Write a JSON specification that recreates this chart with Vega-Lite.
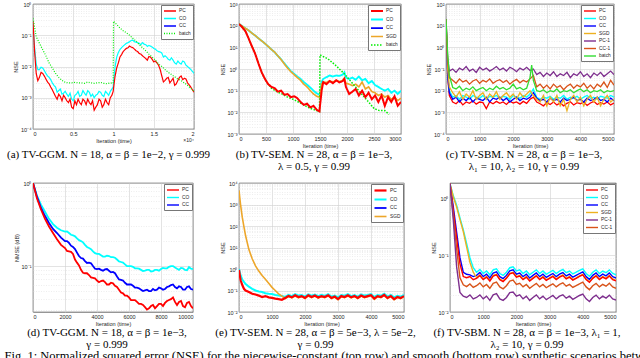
{
"$schema":"https://vega.github.io/schema/vega-lite/v6.json",
"padding":{"left":4,"top":1,"right":2,"bottom":0},
"title":{"text":"Fig. 1: Normalized squared error (NSE) for the piecewise-constant (top row) and smooth (bottom row) synthetic scenarios between our online","orient":"bottom","anchor":"start","fontSize":12.5,"offset":0,"dx":-2},
"spacing":8,
"resolve":{"scale":{"color":"independent","strokeDash":"independent","strokeWidth":"independent"},"legend":{"color":"independent","strokeDash":"independent"}},
"vconcat":[
{"hconcat":[
{"width":161,"height":125,
 "title":{"text":"(a) TV-GGM. N = 18, α = β = 1e−2, γ = 0.999","offset":5,"dx":-5},
 "layer":[
 {"data":{"values":[
{"x":0,"PC":0.28,"CO":0.22,"batch":0.35},
{"x":400,"PC":0.006,"CO":0.012,"batch":0.09},
{"x":800,"PC":0.0045,"CO":0.008,"batch":0.055},
{"x":1200,"PC":0.006,"CO":0.009,"batch":0.035},
{"x":1600,"PC":0.004,"CO":0.006,"batch":0.022},
{"x":2000,"PC":0.0028,"CO":0.0045,"batch":0.013},
{"x":2400,"PC":0.0018,"CO":0.003,"batch":0.009},
{"x":2800,"PC":0.0011,"CO":0.0022,"batch":0.006},
{"x":3200,"PC":0.0013,"CO":0.0017,"batch":0.0045},
{"x":3600,"PC":0.0008,"CO":0.0013,"batch":0.0036},
{"x":4000,"PC":0.001,"CO":0.0016,"batch":0.0031},
{"x":4400,"PC":0.0007,"CO":0.0011,"batch":0.003},
{"x":4800,"PC":0.0005,"CO":0.0009,"batch":0.003},
{"x":5200,"PC":0.0008,"CO":0.0012,"batch":0.0031},
{"x":5600,"PC":0.0009,"CO":0.0016,"batch":0.003},
{"x":6000,"PC":0.0006,"CO":0.0012,"batch":0.003},
{"x":6400,"PC":0.0008,"CO":0.0014,"batch":0.0029},
{"x":6800,"PC":0.0009,"CO":0.0017,"batch":0.0032},
{"x":7200,"PC":0.0006,"CO":0.0011,"batch":0.003},
{"x":7600,"PC":0.0004,"CO":0.001,"batch":0.0029},
{"x":8000,"PC":0.0006,"CO":0.0013,"batch":0.003},
{"x":8400,"PC":0.0008,"CO":0.0015,"batch":0.0031},
{"x":8800,"PC":0.0006,"CO":0.0011,"batch":0.0029},
{"x":9200,"PC":0.0007,"CO":0.0014,"batch":0.0028},
{"x":9600,"PC":0.001,"CO":0.0016,"batch":0.003},
{"x":9960,"PC":0.0016,"CO":0.0022,"batch":0.0029},
{"x":10000,"PC":0.002,"CO":0.003,"batch":0.28},
{"x":10400,"PC":0.009,"CO":0.02,"batch":0.22},
{"x":10800,"PC":0.02,"CO":0.035,"batch":0.17},
{"x":11200,"PC":0.03,"CO":0.045,"batch":0.14},
{"x":11600,"PC":0.038,"CO":0.055,"batch":0.12},
{"x":12000,"PC":0.045,"CO":0.062,"batch":0.1},
{"x":12400,"PC":0.04,"CO":0.07,"batch":0.08},
{"x":12800,"PC":0.032,"CO":0.06,"batch":0.065},
{"x":13200,"PC":0.026,"CO":0.055,"batch":0.05},
{"x":13600,"PC":0.022,"CO":0.058,"batch":0.04},
{"x":14000,"PC":0.018,"CO":0.05,"batch":0.032},
{"x":14400,"PC":0.021,"CO":0.047,"batch":0.025},
{"x":14800,"PC":0.017,"CO":0.042,"batch":0.02},
{"x":15200,"PC":0.015,"CO":0.036,"batch":0.016},
{"x":15600,"PC":0.011,"CO":0.03,"batch":0.012},
{"x":16000,"PC":0.005,"CO":0.027,"batch":0.01},
{"x":16400,"PC":0.0036,"CO":0.022,"batch":0.008},
{"x":16800,"PC":0.0045,"CO":0.017,"batch":0.0065},
{"x":17200,"PC":0.0035,"CO":0.019,"batch":0.0055},
{"x":17600,"PC":0.0025,"CO":0.013,"batch":0.0047},
{"x":18000,"PC":0.0036,"CO":0.015,"batch":0.004},
{"x":18400,"PC":0.005,"CO":0.012,"batch":0.0035},
{"x":18800,"PC":0.0042,"CO":0.014,"batch":0.003},
{"x":19200,"PC":0.003,"CO":0.01,"batch":0.0025},
{"x":19600,"PC":0.0022,"CO":0.008,"batch":0.002},
{"x":20000,"PC":0.0015,"CO":0.006,"batch":0.0016},
{"x":200,"PC":0.03,"CO":0.04},
{"x":600,"PC":0.0035,"CO":0.008},
{"x":1000,"PC":0.0065,"CO":0.0095},
{"x":1400,"PC":0.005,"CO":0.0075},
{"x":1800,"PC":0.0032,"CO":0.005},
{"x":2200,"PC":0.0022,"CO":0.0038},
{"x":2600,"PC":0.0014,"CO":0.0025},
{"x":3000,"PC":0.0009,"CO":0.0015},
{"x":3400,"PC":0.0011,"CO":0.0019},
{"x":3800,"PC":0.0012,"CO":0.0014},
{"x":4200,"PC":0.0008,"CO":0.0013},
{"x":4600,"PC":0.0009,"CO":0.0014},
{"x":5000,"PC":0.00045,"CO":0.0008},
{"x":5400,"PC":0.0006,"CO":0.0013},
{"x":5800,"PC":0.0007,"CO":0.0011},
{"x":6200,"PC":0.0009,"CO":0.0017},
{"x":6600,"PC":0.0006,"CO":0.0012},
{"x":7000,"PC":0.0007,"CO":0.0015},
{"x":7400,"PC":0.0008,"CO":0.0013},
{"x":7800,"PC":0.0005,"CO":0.0012},
{"x":8200,"PC":0.0009,"CO":0.0016},
{"x":8600,"PC":0.0005,"CO":0.0012},
{"x":9000,"PC":0.0009,"CO":0.0016},
{"x":9400,"PC":0.0006,"CO":0.0012},
{"x":9800,"PC":0.0012,"CO":0.0019},
{"x":10200,"PC":0.005,"CO":0.01},
{"x":10600,"PC":0.013,"CO":0.028},
{"x":11000,"PC":0.024,"CO":0.04},
{"x":11400,"PC":0.034,"CO":0.05},
{"x":11800,"PC":0.04,"CO":0.058},
{"x":12200,"PC":0.042,"CO":0.068},
{"x":12600,"PC":0.036,"CO":0.062},
{"x":13000,"PC":0.03,"CO":0.058},
{"x":13400,"PC":0.025,"CO":0.05},
{"x":13800,"PC":0.02,"CO":0.052},
{"x":14200,"PC":0.016,"CO":0.044},
{"x":14600,"PC":0.02,"CO":0.045},
{"x":15000,"PC":0.014,"CO":0.038},
{"x":15400,"PC":0.013,"CO":0.032},
{"x":15800,"PC":0.008,"CO":0.029},
{"x":16200,"PC":0.0032,"CO":0.02},
{"x":16600,"PC":0.0042,"CO":0.02},
{"x":17000,"PC":0.003,"CO":0.016},
{"x":17400,"PC":0.0042,"CO":0.016},
{"x":17800,"PC":0.0028,"CO":0.012},
{"x":18200,"PC":0.0045,"CO":0.013},
{"x":18600,"PC":0.0038,"CO":0.015},
{"x":19000,"PC":0.004,"CO":0.011},
{"x":19400,"PC":0.0026,"CO":0.009},
{"x":19800,"PC":0.0018,"CO":0.007}
 ]},
 "transform":[{"fold":["CO","PC","batch"],"as":["s","v"]},{"filter":"isValid(datum.v) && datum.v > 0"}],
 "mark":{"type":"line","strokeWidth":1.2,"clip":true},
 "encoding":{
  "x":{"field":"x","type":"quantitative","scale":{"domain":[0,20000],"nice":false},"axis":{"title":"Iteration (time)","values":[0,5000,10000,15000,20000],"labelExpr":"datum.value/10000","gridColor":"#d0d0d0"}},
  "y":{"field":"v","type":"quantitative","scale":{"type":"log","domain":[0.0001,1],"nice":false},"axis":{"title":"NSE","values":[0.0001,0.0002,0.0003,0.0004,0.0005,0.0006,0.0007,0.0008,0.0009,0.001,0.002,0.003,0.004,0.005,0.006,0.007,0.008,0.009,0.01,0.02,0.03,0.04,0.05,0.06,0.07,0.08,0.09,0.1,0.2,0.3,0.4,0.5,0.6,0.7,0.8,0.9,1],"labelExpr":"abs(log(datum.value)/LN10-round(log(datum.value)/LN10))<0.01 ? '10'+(round(log(datum.value)/LN10)<0?'⁻':'')+['⁰','¹','²','³','⁴','⁵'][abs(round(log(datum.value)/LN10))] : ''","gridDash":{"condition":{"test":"abs(log(datum.value)/LN10-round(log(datum.value)/LN10))<0.01","value":[]},"value":[1,1.5]},"gridColor":{"condition":{"test":"abs(log(datum.value)/LN10-round(log(datum.value)/LN10))<0.01","value":"#d0d0d0"},"value":"#e2e2e2"}}},
  "color":{"field":"s","type":"nominal","scale":{"domain":["PC","CO","CC","batch"],"range":["#ff0000","#00ffff","#0000ff","#00ee00"]},"legend":{"title":null}},
  "strokeDash":{"field":"s","type":"nominal","scale":{"domain":["PC","CO","CC","batch"],"range":[[1,0],[1,0],[1,0],[1,1.5]]},"legend":{"title":null}}
 }},
 {"data":{"values":[{}]},
  "mark":{"type":"text","text":"×10⁴","align":"right","baseline":"top","dy":9,"fontSize":5,"font":"Liberation Sans","color":"#262626"},
  "encoding":{"x":{"datum":20000,"type":"quantitative"},"y":{"datum":0.0001,"type":"quantitative"}}}
 ]},
{"width":162,"height":130,
 "title":{"text":["(b) TV-SEM. N = 28, α = β = 1e−3,","λ = 0.5, γ = 0.99"],"offset":0,"dx":-6},
 "data":{"values":[
{"x":0,"PC":120,"CO":120,"SGD":120,"batch":120},
{"x":60,"PC":85,"CO":95,"SGD":95,"batch":85},
{"x":120,"PC":55,"CO":75,"SGD":75,"batch":55},
{"x":180,"PC":25,"CO":60,"SGD":60,"batch":25},
{"x":240,"PC":11,"CO":45,"SGD":45,"batch":11},
{"x":300,"PC":5,"CO":35,"SGD":35,"batch":5},
{"x":360,"PC":1.8,"CO":26,"SGD":26,"batch":1.8},
{"x":420,"PC":0.7,"CO":20,"SGD":20,"batch":0.7},
{"x":480,"PC":0.35,"CO":15,"SGD":15,"batch":0.35},
{"x":540,"PC":0.2,"CO":11,"SGD":11,"batch":0.2},
{"x":600,"PC":0.15,"CO":8,"SGD":8,"batch":0.13},
{"x":660,"PC":0.13,"CO":6,"SGD":6},
{"x":700,"batch":0.09},
{"x":720,"PC":0.09,"CO":4,"SGD":4},
{"x":780,"PC":0.1,"CO":2.8,"SGD":2.7},
{"x":800,"batch":0.07},
{"x":840,"PC":0.065,"CO":1.8,"SGD":1.7},
{"x":900,"PC":0.07,"CO":1.2,"SGD":1.1,"batch":0.05},
{"x":960,"PC":0.05,"CO":0.8,"SGD":0.75},
{"x":1000,"batch":0.04},
{"x":1020,"PC":0.055,"CO":0.6,"SGD":0.55},
{"x":1080,"PC":0.045,"CO":0.45,"SGD":0.4},
{"x":1100,"batch":0.03},
{"x":1140,"PC":0.03,"CO":0.35,"SGD":0.3},
{"x":1200,"PC":0.022,"CO":0.25,"SGD":0.2,"batch":0.022},
{"x":1260,"PC":0.025,"CO":0.19,"SGD":0.15},
{"x":1300,"batch":0.016},
{"x":1320,"PC":0.017,"CO":0.14,"SGD":0.1},
{"x":1380,"PC":0.02,"CO":0.1,"SGD":0.07},
{"x":1400,"batch":0.013},
{"x":1440,"PC":0.013,"CO":0.075,"SGD":0.055},
{"x":1490,"PC":0.011,"CO":0.065,"SGD":0.05,"batch":0.011},
{"x":1500,"PC":0.02,"CO":0.08,"SGD":0.06,"batch":4.5},
{"x":1530,"PC":0.1,"CO":0.25,"SGD":0.2},
{"x":1560,"PC":0.25,"CO":0.35,"SGD":0.25},
{"x":1620,"PC":0.2,"CO":0.42,"SGD":0.24},
{"x":1650,"batch":2.9},
{"x":1680,"PC":0.28,"CO":0.5,"SGD":0.28},
{"x":1740,"PC":0.22,"CO":0.45,"SGD":0.25},
{"x":1800,"PC":0.3,"CO":0.5,"SGD":0.3,"batch":1.4},
{"x":1860,"PC":0.24,"CO":0.48,"SGD":0.26},
{"x":1920,"PC":0.28,"CO":0.55,"SGD":0.3},
{"x":1950,"PC":0.35,"CO":0.7,"SGD":0.38,"batch":0.6},
{"x":1980,"PC":0.15,"CO":0.4,"SGD":0.22},
{"x":2040,"PC":0.07,"CO":0.35,"SGD":0.2},
{"x":2100,"PC":0.09,"CO":0.4,"SGD":0.17,"batch":0.22},
{"x":2160,"PC":0.12,"CO":0.32,"SGD":0.2},
{"x":2220,"PC":0.06,"CO":0.45,"SGD":0.15},
{"x":2250,"batch":0.08},
{"x":2280,"PC":0.1,"CO":0.3,"SGD":0.25},
{"x":2340,"PC":0.05,"CO":0.35,"SGD":0.12},
{"x":2400,"PC":0.08,"CO":0.22,"SGD":0.15,"batch":0.03},
{"x":2460,"PC":0.04,"CO":0.28,"SGD":0.09},
{"x":2500,"batch":0.015},
{"x":2520,"PC":0.06,"CO":0.18,"SGD":0.08},
{"x":2580,"PC":0.03,"CO":0.15,"SGD":0.06},
{"x":2600,"batch":0.012},
{"x":2640,"PC":0.06,"CO":0.12,"SGD":0.07},
{"x":2700,"PC":0.02,"CO":0.1,"SGD":0.05,"batch":0.012},
{"x":2760,"PC":0.05,"CO":0.12,"SGD":0.06},
{"x":2780,"batch":0.008},
{"x":2820,"PC":0.03,"CO":0.08,"SGD":0.04},
{"x":2880,"PC":0.055,"CO":0.1,"SGD":0.05},
{"x":2940,"PC":0.02,"CO":0.07,"SGD":0.035},
{"x":3000,"PC":0.03,"CO":0.1,"SGD":0.045}
 ]},
 "transform":[{"fold":["CO","SGD","batch","PC"],"as":["s","v"]},{"filter":"isValid(datum.v) && datum.v > 0"}],
 "mark":{"type":"line","clip":true},
 "encoding":{
  "x":{"field":"x","type":"quantitative","scale":{"domain":[0,3000],"nice":false},"axis":{"title":"Iteration (time)","values":[0,500,1000,1500,2000,2500,3000],"format":"d","gridColor":"#d0d0d0"}},
  "y":{"field":"v","type":"quantitative","scale":{"type":"log","domain":[0.001,1000],"nice":false},"axis":{"title":"NSE","values":[0.001,0.002,0.003,0.004,0.005,0.006,0.007,0.008,0.009,0.01,0.02,0.03,0.04,0.05,0.06,0.07,0.08,0.09,0.1,0.2,0.3,0.4,0.5,0.6,0.7,0.8,0.9,1,2,3,4,5,6,7,8,9,10,20,30,40,50,60,70,80,90,100,200,300,400,500,600,700,800,900,1000],"labelExpr":"abs(log(datum.value)/LN10-round(log(datum.value)/LN10))<0.01 ? '10'+(round(log(datum.value)/LN10)<0?'⁻':'')+['⁰','¹','²','³','⁴','⁵'][abs(round(log(datum.value)/LN10))] : ''","gridDash":{"condition":{"test":"abs(log(datum.value)/LN10-round(log(datum.value)/LN10))<0.01","value":[]},"value":[1,1.5]},"gridColor":{"condition":{"test":"abs(log(datum.value)/LN10-round(log(datum.value)/LN10))<0.01","value":"#d0d0d0"},"value":"#e2e2e2"}}},
  "color":{"field":"s","type":"nominal","scale":{"domain":["PC","CO","CC","SGD","batch"],"range":["#ff0000","#00ffff","#0000ff","#eda62a","#00ee00"]},"legend":{"title":null}},
  "strokeDash":{"field":"s","type":"nominal","scale":{"domain":["PC","CO","CC","SGD","batch"],"range":[[1,0],[1,0],[1,0],[1,0],[1.5,1.5]]},"legend":{"title":null}},
  "strokeWidth":{"field":"s","type":"nominal","scale":{"domain":["PC","CO","CC","SGD","batch"],"range":[2,1.5,1.5,1.5,1.3]},"legend":null}
 }},
{"width":168,"height":130,
 "title":{"text":["(c) TV-SBM. N = 28, α = β = 1e−3,","λ₁ = 10, λ₂ = 10, γ = 0.99"],"offset":0,"dx":-6},
 "data":{"values":[
{"x":0,"PC":20,"CO":20,"CC":20,"SGD":20,"PC-1":20,"CC-1":20,"batch":20},
{"x":50,"PC":0.04,"CO":0.06,"CC":0.05,"SGD":0.1,"PC-1":0.3,"CC-1":0.2,"batch":0.5},
{"x":100,"PC":0.006,"CO":0.01,"CC":0.008,"SGD":0.015,"PC-1":0.08,"CC-1":0.04,"batch":0.05},
{"x":200,"PC":0.003,"CO":0.005,"CC":0.004,"SGD":0.008,"PC-1":0.1,"CC-1":0.03,"batch":0.014},
{"x":300,"PC":0.0025,"CO":0.006,"CC":0.005,"SGD":0.005,"PC-1":0.07,"CC-1":0.022,"batch":0.012},
{"x":400,"PC":0.0035,"CO":0.004,"CC":0.003,"SGD":0.009,"PC-1":0.11,"CC-1":0.035,"batch":0.016},
{"x":500,"PC":0.0022,"CO":0.006,"CC":0.0045,"SGD":0.004,"PC-1":0.09,"CC-1":0.025,"batch":0.01},
{"x":600,"PC":0.003,"CO":0.005,"CC":0.0035,"SGD":0.007,"PC-1":0.13,"CC-1":0.03,"batch":0.013},
{"x":700,"PC":0.0026,"CO":0.004,"CC":0.005,"SGD":0.005,"PC-1":0.08,"CC-1":0.02,"batch":0.011},
{"x":800,"PC":0.0034,"CO":0.006,"CC":0.003,"SGD":0.01,"PC-1":0.1,"CC-1":0.028,"batch":0.015},
{"x":900,"PC":0.0024,"CO":0.005,"CC":0.0045,"SGD":0.004,"PC-1":0.07,"CC-1":0.033,"batch":0.01},
{"x":1000,"PC":0.003,"CO":0.0045,"CC":0.004,"SGD":0.006,"PC-1":0.12,"CC-1":0.022,"batch":0.012},
{"x":1100,"PC":0.0028,"CO":0.006,"CC":0.0035,"SGD":0.008,"PC-1":0.09,"CC-1":0.03,"batch":0.014},
{"x":1200,"PC":0.0015,"CO":0.004,"CC":0.005,"SGD":0.004,"PC-1":0.11,"CC-1":0.025,"batch":0.01},
{"x":1300,"PC":0.003,"CO":0.0055,"CC":0.003,"SGD":0.007,"PC-1":0.08,"CC-1":0.035,"batch":0.013},
{"x":1400,"PC":0.0025,"CO":0.005,"CC":0.0045,"SGD":0.005,"PC-1":0.1,"CC-1":0.022,"batch":0.011},
{"x":1500,"PC":0.0032,"CO":0.006,"CC":0.004,"SGD":0.009,"PC-1":0.13,"CC-1":0.028,"batch":0.016},
{"x":1600,"PC":0.0026,"CO":0.0045,"CC":0.005,"SGD":0.004,"PC-1":0.09,"CC-1":0.032,"batch":0.012},
{"x":1700,"PC":0.003,"CO":0.0055,"CC":0.0035,"SGD":0.006,"PC-1":0.11,"CC-1":0.024,"batch":0.014},
{"x":1800,"PC":0.0023,"CO":0.005,"CC":0.0045,"SGD":0.008,"PC-1":0.08,"CC-1":0.03,"batch":0.011},
{"x":1900,"PC":0.0033,"CO":0.004,"CC":0.003,"SGD":0.005,"PC-1":0.12,"CC-1":0.02,"batch":0.013},
{"x":2000,"PC":0.0027,"CO":0.006,"CC":0.004,"SGD":0.007,"PC-1":0.1,"CC-1":0.027,"batch":0.02},
{"x":2100,"PC":0.003,"CO":0.005,"CC":0.005,"SGD":0.004,"PC-1":0.075,"CC-1":0.033,"batch":0.012},
{"x":2200,"PC":0.0024,"CO":0.0045,"CC":0.0035,"SGD":0.008,"PC-1":0.11,"CC-1":0.023,"batch":0.014},
{"x":2300,"PC":0.0032,"CO":0.006,"CC":0.0045,"SGD":0.005,"PC-1":0.09,"CC-1":0.03,"batch":0.011},
{"x":2400,"PC":0.0026,"CO":0.005,"CC":0.004,"SGD":0.007,"PC-1":0.12,"CC-1":0.025,"batch":0.013},
{"x":2500,"PC":0.004,"CO":0.007,"CC":0.005,"SGD":0.01,"PC-1":0.085,"CC-1":0.035,"batch":0.04},
{"x":2550,"batch":0.15},
{"x":2600,"PC":0.005,"CO":0.012,"CC":0.008,"SGD":0.006,"PC-1":0.1,"CC-1":0.05,"batch":0.03},
{"x":2700,"PC":0.003,"CO":0.005,"CC":0.0045,"SGD":0.004,"PC-1":0.055,"CC-1":0.015,"batch":0.01},
{"x":2800,"PC":0.0025,"CO":0.004,"CC":0.0035,"SGD":0.003,"PC-1":0.07,"CC-1":0.02,"batch":0.009},
{"x":2900,"PC":0.002,"CO":0.005,"CC":0.004,"SGD":0.006,"PC-1":0.045,"CC-1":0.013,"batch":0.011},
{"x":3000,"PC":0.0028,"CO":0.0045,"CC":0.003,"SGD":0.002,"PC-1":0.065,"CC-1":0.018,"batch":0.008},
{"x":3100,"PC":0.0023,"CO":0.0055,"CC":0.0045,"SGD":0.005,"PC-1":0.05,"CC-1":0.012,"batch":0.01},
{"x":3200,"PC":0.003,"CO":0.004,"CC":0.0035,"SGD":0.003,"PC-1":0.075,"CC-1":0.02,"batch":0.009},
{"x":3300,"PC":0.0022,"CO":0.005,"CC":0.004,"SGD":0.006,"PC-1":0.045,"CC-1":0.014,"batch":0.012},
{"x":3400,"PC":0.0027,"CO":0.0045,"CC":0.003,"SGD":0.002,"PC-1":0.06,"CC-1":0.017,"batch":0.008},
{"x":3500,"PC":0.002,"CO":0.006,"CC":0.0045,"SGD":0.004,"PC-1":0.05,"CC-1":0.011,"batch":0.01},
{"x":3600,"PC":0.0026,"CO":0.004,"CC":0.0035,"SGD":0.0012,"PC-1":0.07,"CC-1":0.016,"batch":0.009},
{"x":3700,"PC":0.0031,"CO":0.005,"CC":0.004,"SGD":0.004,"PC-1":0.04,"CC-1":0.02,"batch":0.011},
{"x":3800,"PC":0.0022,"CO":0.0045,"CC":0.005,"SGD":0.006,"PC-1":0.06,"CC-1":0.013,"batch":0.008},
{"x":3900,"PC":0.0028,"CO":0.0055,"CC":0.0035,"SGD":0.003,"PC-1":0.05,"CC-1":0.018,"batch":0.01},
{"x":4000,"PC":0.0025,"CO":0.004,"CC":0.004,"SGD":0.005,"PC-1":0.075,"CC-1":0.015,"batch":0.012},
{"x":4100,"PC":0.003,"CO":0.005,"CC":0.003,"SGD":0.002,"PC-1":0.045,"CC-1":0.022,"batch":0.009},
{"x":4200,"PC":0.0021,"CO":0.006,"CC":0.0045,"SGD":0.004,"PC-1":0.06,"CC-1":0.013,"batch":0.011},
{"x":4300,"PC":0.0027,"CO":0.0045,"CC":0.0035,"SGD":0.006,"PC-1":0.04,"CC-1":0.018,"batch":0.008},
{"x":4400,"PC":0.0032,"CO":0.005,"CC":0.004,"SGD":0.003,"PC-1":0.065,"CC-1":0.012,"batch":0.01},
{"x":4500,"PC":0.0023,"CO":0.004,"CC":0.005,"SGD":0.005,"PC-1":0.05,"CC-1":0.02,"batch":0.009},
{"x":4600,"PC":0.0028,"CO":0.0055,"CC":0.0035,"SGD":0.002,"PC-1":0.07,"CC-1":0.015,"batch":0.011},
{"x":4700,"PC":0.0024,"CO":0.005,"CC":0.004,"SGD":0.004,"PC-1":0.045,"CC-1":0.025,"batch":0.008},
{"x":4800,"PC":0.003,"CO":0.0045,"CC":0.003,"SGD":0.006,"PC-1":0.06,"CC-1":0.014,"batch":0.01},
{"x":4900,"PC":0.0022,"CO":0.006,"CC":0.0045,"SGD":0.003,"PC-1":0.08,"CC-1":0.03,"batch":0.009},
{"x":5000,"PC":0.0027,"CO":0.005,"CC":0.0035,"SGD":0.004,"PC-1":0.055,"CC-1":0.018,"batch":0.01}
 ]},
 "transform":[{"fold":["PC","CO","CC","SGD","PC-1","CC-1","batch"],"as":["s","v"]},{"filter":"isValid(datum.v) && datum.v > 0"}],
 "mark":{"type":"line","strokeWidth":1.3,"clip":true},
 "encoding":{
  "x":{"field":"x","type":"quantitative","scale":{"domain":[0,5000],"nice":false},"axis":{"title":"Iteration (time)","values":[0,1000,2000,3000,4000,5000],"format":"d","gridColor":"#d0d0d0"}},
  "y":{"field":"v","type":"quantitative","scale":{"type":"log","domain":[0.0001,100],"nice":false},"axis":{"title":"NSE","values":[0.0001,0.0002,0.0003,0.0004,0.0005,0.0006,0.0007,0.0008,0.0009,0.001,0.002,0.003,0.004,0.005,0.006,0.007,0.008,0.009,0.01,0.02,0.03,0.04,0.05,0.06,0.07,0.08,0.09,0.1,0.2,0.3,0.4,0.5,0.6,0.7,0.8,0.9,1,2,3,4,5,6,7,8,9,10,20,30,40,50,60,70,80,90,100],"labelExpr":"abs(log(datum.value)/LN10-round(log(datum.value)/LN10))<0.01 ? '10'+(round(log(datum.value)/LN10)<0?'⁻':'')+['⁰','¹','²','³','⁴','⁵'][abs(round(log(datum.value)/LN10))] : ''","gridDash":{"condition":{"test":"abs(log(datum.value)/LN10-round(log(datum.value)/LN10))<0.01","value":[]},"value":[1,1.5]},"gridColor":{"condition":{"test":"abs(log(datum.value)/LN10-round(log(datum.value)/LN10))<0.01","value":"#d0d0d0"},"value":"#e2e2e2"}}},
  "color":{"field":"s","type":"nominal","scale":{"domain":["PC","CO","CC","SGD","PC-1","CC-1","batch"],"range":["#ff0000","#00ffff","#0000ff","#edb120","#7e2f8e","#d95319","#33dd33"]},"legend":{"title":null}}
 }}
],"spacing":45,"bounds":"flush","resolve":{"scale":{"color":"independent","strokeDash":"independent","strokeWidth":"independent"},"legend":{"color":"independent","strokeDash":"independent"}}},
{"hconcat":[
{"width":160,"height":129,
 "title":{"text":["(d) TV-GGM. N = 18, α = β = 1e−3,","γ = 0.999"],"offset":0,"dx":-6},
 "data":{"values":[
{"x":0,"PC":1.0,"CO":1.0,"CC":1.0},
{"x":250,"PC":0.65,"CO":0.7,"CC":0.68},
{"x":500,"PC":0.48,"CO":0.55,"CC":0.5},
{"x":750,"PC":0.37,"CO":0.45,"CC":0.4},
{"x":1000,"PC":0.3,"CO":0.37,"CC":0.33},
{"x":1250,"PC":0.25,"CO":0.32,"CC":0.28},
{"x":1500,"PC":0.21,"CO":0.29,"CC":0.25},
{"x":1750,"PC":0.18,"CO":0.27,"CC":0.22},
{"x":2000,"PC":0.165,"CO":0.26,"CC":0.2},
{"x":2250,"PC":0.15,"CO":0.25,"CC":0.19},
{"x":2500,"PC":0.14,"CO":0.235,"CC":0.17},
{"x":2750,"PC":0.11,"CO":0.215,"CC":0.145},
{"x":3000,"PC":0.09,"CO":0.2,"CC":0.125},
{"x":3250,"PC":0.082,"CO":0.18,"CC":0.115},
{"x":3500,"PC":0.078,"CO":0.165,"CC":0.11},
{"x":3750,"PC":0.072,"CO":0.15,"CC":0.1},
{"x":4000,"PC":0.067,"CO":0.14,"CC":0.092},
{"x":4250,"PC":0.066,"CO":0.135,"CC":0.09},
{"x":4500,"PC":0.064,"CO":0.13,"CC":0.091},
{"x":4750,"PC":0.06,"CO":0.132,"CC":0.088},
{"x":5000,"PC":0.062,"CO":0.128,"CC":0.085},
{"x":5250,"PC":0.056,"CO":0.12,"CC":0.075},
{"x":5500,"PC":0.048,"CO":0.112,"CC":0.068},
{"x":5750,"PC":0.044,"CO":0.105,"CC":0.063},
{"x":6000,"PC":0.042,"CO":0.1,"CC":0.06},
{"x":6250,"PC":0.039,"CO":0.098,"CC":0.058},
{"x":6500,"PC":0.037,"CO":0.094,"CC":0.055},
{"x":6750,"PC":0.035,"CO":0.09,"CC":0.052},
{"x":7000,"PC":0.032,"CO":0.088,"CC":0.051},
{"x":7250,"PC":0.031,"CO":0.09,"CC":0.05},
{"x":7500,"PC":0.034,"CO":0.087,"CC":0.053},
{"x":7750,"PC":0.033,"CO":0.09,"CC":0.052},
{"x":8000,"PC":0.035,"CO":0.092,"CC":0.054},
{"x":8250,"PC":0.036,"CO":0.094,"CC":0.053},
{"x":8500,"PC":0.039,"CO":0.098,"CC":0.057},
{"x":8750,"PC":0.042,"CO":0.1,"CC":0.06},
{"x":9000,"PC":0.034,"CO":0.093,"CC":0.054},
{"x":9250,"PC":0.038,"CO":0.095,"CC":0.056},
{"x":9500,"PC":0.032,"CO":0.09,"CC":0.052},
{"x":9750,"PC":0.037,"CO":0.097,"CC":0.057},
{"x":10000,"PC":0.031,"CO":0.092,"CC":0.052},
{"x":2125,"PC":0.152,"CO":0.262,"CC":0.2},
{"x":2375,"PC":0.148,"CO":0.238,"CC":0.176},
{"x":2625,"PC":0.12,"CO":0.228,"CC":0.16},
{"x":2875,"PC":0.102,"CO":0.205,"CC":0.132},
{"x":3125,"PC":0.083,"CO":0.193,"CC":0.123},
{"x":3375,"PC":0.082,"CO":0.17,"CC":0.109},
{"x":3625,"PC":0.073,"CO":0.16,"CC":0.108},
{"x":3875,"PC":0.071,"CO":0.143,"CC":0.093},
{"x":4125,"PC":0.064,"CO":0.14,"CC":0.093},
{"x":4375,"PC":0.067,"CO":0.13,"CC":0.088},
{"x":4625,"PC":0.06,"CO":0.133,"CC":0.092},
{"x":4875,"PC":0.063,"CO":0.128,"CC":0.084},
{"x":5125,"PC":0.058,"CO":0.126,"CC":0.082},
{"x":5375,"PC":0.052,"CO":0.114,"CC":0.069},
{"x":5625,"PC":0.047,"CO":0.11,"CC":0.067},
{"x":5875,"PC":0.044,"CO":0.1,"CC":0.06},
{"x":6125,"PC":0.039,"CO":0.1,"CC":0.06},
{"x":6375,"PC":0.039,"CO":0.094,"CC":0.055},
{"x":6625,"PC":0.035,"CO":0.093,"CC":0.054},
{"x":6875,"PC":0.034,"CO":0.087,"CC":0.05},
{"x":7125,"PC":0.03,"CO":0.09,"CC":0.052},
{"x":7375,"PC":0.033,"CO":0.086,"CC":0.05},
{"x":7625,"PC":0.031,"CO":0.09,"CC":0.051},
{"x":7875,"PC":0.035,"CO":0.088,"CC":0.055},
{"x":8125,"PC":0.033,"CO":0.095,"CC":0.052},
{"x":8375,"PC":0.038,"CO":0.094,"CC":0.056},
{"x":8625,"PC":0.04,"CO":0.1,"CC":0.059},
{"x":8875,"PC":0.037,"CO":0.096,"CC":0.056},
{"x":9125,"PC":0.037,"CO":0.09,"CC":0.057},
{"x":9375,"PC":0.033,"CO":0.094,"CC":0.052},
{"x":9625,"PC":0.036,"CO":0.089,"CC":0.056},
{"x":9875,"PC":0.033,"CO":0.093,"CC":0.053}
 ]},
 "transform":[{"fold":["CO","CC","PC"],"as":["s","v"]},{"filter":"isValid(datum.v) && datum.v > 0"}],
 "mark":{"type":"line","strokeWidth":1.8,"clip":true},
 "encoding":{
  "x":{"field":"x","type":"quantitative","scale":{"domain":[0,10000],"nice":false},"axis":{"title":"Iteration (time)","values":[0,2000,4000,6000,8000,10000],"format":"d","gridColor":"#d0d0d0"}},
  "y":{"field":"v","type":"quantitative","scale":{"type":"log","domain":[0.028,1],"nice":false},"axis":{"title":"NMSE (dB)","values":[0.03,0.04,0.05,0.06,0.07,0.08,0.09,0.1,0.2,0.3,0.4,0.5,0.6,0.7,0.8,0.9,1],"labelExpr":"abs(log(datum.value)/LN10-round(log(datum.value)/LN10))<0.01 ? '10'+(round(log(datum.value)/LN10)<0?'⁻':'')+['⁰','¹','²','³','⁴','⁵'][abs(round(log(datum.value)/LN10))] : ''","gridDash":{"condition":{"test":"abs(log(datum.value)/LN10-round(log(datum.value)/LN10))<0.01","value":[]},"value":[1,1.5]},"gridColor":{"condition":{"test":"abs(log(datum.value)/LN10-round(log(datum.value)/LN10))<0.01","value":"#d0d0d0"},"value":"#e2e2e2"}}},
  "color":{"field":"s","type":"nominal","scale":{"domain":["PC","CO","CC"],"range":["#ff0000","#00ffff","#0000ff"]},"legend":{"title":null}}
 }},
{"width":165,"height":129,
 "title":{"text":["(e) TV-SEM. N = 28, α = β = 5e−3, λ = 5e−2,","γ = 0.99"],"offset":0,"dx":-6},
 "data":{"values":[
{"x":0,"PC":0.9,"CO":1.0,"SGD":4500},
{"x":25,"PC":0.5,"CO":0.7,"SGD":2000},
{"x":50,"PC":0.3,"CO":0.5,"SGD":900},
{"x":100,"PC":0.18,"CO":0.32,"SGD":250},
{"x":150,"PC":0.12,"CO":0.25,"SGD":90},
{"x":200,"PC":0.1,"CO":0.2,"SGD":35},
{"x":300,"PC":0.085,"CO":0.15,"SGD":8},
{"x":400,"PC":0.07,"CO":0.12,"SGD":3},
{"x":500,"PC":0.065,"CO":0.1,"SGD":1.4},
{"x":600,"PC":0.058,"CO":0.09,"SGD":0.8},
{"x":700,"PC":0.05,"CO":0.085,"SGD":0.5},
{"x":800,"PC":0.055,"CO":0.075,"SGD":0.33},
{"x":900,"PC":0.048,"CO":0.07,"SGD":0.22},
{"x":1000,"PC":0.045,"CO":0.068,"SGD":0.14},
{"x":1100,"PC":0.042,"CO":0.062,"SGD":0.1},
{"x":1200,"PC":0.04,"CO":0.058,"SGD":0.07},
{"x":1300,"PC":0.037,"CO":0.055,"SGD":0.055},
{"x":1400,"PC":0.045,"CO":0.05,"SGD":0.042},
{"x":1500,"PC":0.055,"CO":0.062,"SGD":0.052},
{"x":1600,"PC":0.048,"CO":0.055,"SGD":0.045},
{"x":1700,"PC":0.06,"CO":0.068,"SGD":0.057},
{"x":1800,"PC":0.05,"CO":0.058,"SGD":0.046},
{"x":1900,"PC":0.055,"CO":0.062,"SGD":0.052},
{"x":2000,"PC":0.045,"CO":0.052,"SGD":0.042},
{"x":2100,"PC":0.06,"CO":0.066,"SGD":0.056},
{"x":2200,"PC":0.05,"CO":0.057,"SGD":0.047},
{"x":2300,"PC":0.058,"CO":0.064,"SGD":0.055},
{"x":2400,"PC":0.047,"CO":0.055,"SGD":0.044},
{"x":2500,"PC":0.055,"CO":0.063,"SGD":0.052},
{"x":2600,"PC":0.05,"CO":0.056,"SGD":0.047},
{"x":2700,"PC":0.06,"CO":0.068,"SGD":0.057},
{"x":2800,"PC":0.045,"CO":0.052,"SGD":0.042},
{"x":2900,"PC":0.052,"CO":0.058,"SGD":0.049},
{"x":3000,"PC":0.04,"CO":0.048,"SGD":0.037},
{"x":3100,"PC":0.055,"CO":0.062,"SGD":0.052},
{"x":3200,"PC":0.05,"CO":0.057,"SGD":0.047},
{"x":3300,"PC":0.06,"CO":0.068,"SGD":0.057},
{"x":3400,"PC":0.048,"CO":0.055,"SGD":0.045},
{"x":3500,"PC":0.055,"CO":0.062,"SGD":0.052},
{"x":3600,"PC":0.045,"CO":0.052,"SGD":0.042},
{"x":3700,"PC":0.058,"CO":0.066,"SGD":0.055},
{"x":3800,"PC":0.05,"CO":0.058,"SGD":0.047},
{"x":3900,"PC":0.055,"CO":0.062,"SGD":0.052},
{"x":4000,"PC":0.06,"CO":0.068,"SGD":0.057},
{"x":4100,"PC":0.042,"CO":0.05,"SGD":0.039},
{"x":4200,"PC":0.055,"CO":0.062,"SGD":0.052},
{"x":4300,"PC":0.05,"CO":0.057,"SGD":0.047},
{"x":4400,"PC":0.062,"CO":0.07,"SGD":0.059},
{"x":4500,"PC":0.045,"CO":0.052,"SGD":0.042},
{"x":4600,"PC":0.055,"CO":0.062,"SGD":0.052},
{"x":4700,"PC":0.04,"CO":0.048,"SGD":0.037},
{"x":4800,"PC":0.05,"CO":0.057,"SGD":0.047},
{"x":4900,"PC":0.045,"CO":0.052,"SGD":0.042},
{"x":5000,"PC":0.055,"CO":0.062,"SGD":0.052}
 ]},
 "transform":[{"fold":["CO","SGD","PC"],"as":["s","v"]},{"filter":"isValid(datum.v) && datum.v > 0"}],
 "mark":{"type":"line","clip":true},
 "encoding":{
  "x":{"field":"x","type":"quantitative","scale":{"domain":[0,5000],"nice":false},"axis":{"title":"Iteration (time)","values":[0,1000,2000,3000,4000,5000],"format":"d","gridColor":"#d0d0d0"}},
  "y":{"field":"v","type":"quantitative","scale":{"type":"log","domain":[0.01,10000],"nice":false},"axis":{"title":"NSE","values":[0.01,0.02,0.03,0.04,0.05,0.06,0.07,0.08,0.09,0.1,0.2,0.3,0.4,0.5,0.6,0.7,0.8,0.9,1,2,3,4,5,6,7,8,9,10,20,30,40,50,60,70,80,90,100,200,300,400,500,600,700,800,900,1000,2000,3000,4000,5000,6000,7000,8000,9000,10000],"labelExpr":"abs(log(datum.value)/LN10-round(log(datum.value)/LN10))<0.01 ? '10'+(round(log(datum.value)/LN10)<0?'⁻':'')+['⁰','¹','²','³','⁴','⁵'][abs(round(log(datum.value)/LN10))] : ''","gridDash":{"condition":{"test":"abs(log(datum.value)/LN10-round(log(datum.value)/LN10))<0.01","value":[]},"value":[1,1.5]},"gridColor":{"condition":{"test":"abs(log(datum.value)/LN10-round(log(datum.value)/LN10))<0.01","value":"#d0d0d0"},"value":"#e2e2e2"}}},
  "color":{"field":"s","type":"nominal","scale":{"domain":["PC","CO","CC","SGD"],"range":["#ff0000","#00ffff","#0000ff","#eda62a"]},"legend":{"title":null}},
  "strokeWidth":{"field":"s","type":"nominal","scale":{"domain":["PC","CO","CC","SGD"],"range":[2.2,1.6,1.6,1.6]},"legend":null}
 }},
{"width":166,"height":129,
 "title":{"text":["(f) TV-SBM. N = 28, α = β = 1e−3, λ₁ = 1,","λ₂ = 10, γ = 0.99"],"offset":0,"dx":-6},
 "data":{"values":[
{"x":0,"PC":1.8,"CO":1.8,"CC":1.8,"SGD":1.8,"PC-1":1.8,"CC-1":1.8},
{"x":100,"PC":0.6,"CO":1.1,"CC":0.7,"SGD":1.05,"PC-1":0.41,"CC-1":0.5},
{"x":200,"PC":0.2,"CO":0.75,"CC":0.25,"SGD":0.7,"PC-1":0.062,"CC-1":0.13},
{"x":300,"PC":0.07,"CO":0.45,"CC":0.09,"SGD":0.42,"PC-1":0.022,"CC-1":0.04},
{"x":400,"PC":0.042,"CO":0.28,"CC":0.05,"SGD":0.26,"PC-1":0.019,"CC-1":0.03},
{"x":500,"PC":0.04,"CO":0.16,"CC":0.046,"SGD":0.14,"PC-1":0.018,"CC-1":0.028},
{"x":600,"PC":0.042,"CO":0.09,"CC":0.045,"SGD":0.075,"PC-1":0.02,"CC-1":0.031},
{"x":700,"PC":0.037,"CO":0.06,"CC":0.042,"SGD":0.05,"PC-1":0.017,"CC-1":0.027},
{"x":800,"PC":0.039,"CO":0.05,"CC":0.044,"SGD":0.04,"PC-1":0.018,"CC-1":0.029},
{"x":900,"PC":0.0437,"CO":0.056,"CC":0.0493,"SGD":0.0448,"PC-1":0.02,"CC-1":0.0325},
{"x":1000,"PC":0.0371,"CO":0.0475,"CC":0.0418,"SGD":0.038,"PC-1":0.017,"CC-1":0.0276},
{"x":1100,"PC":0.041,"CO":0.0525,"CC":0.0462,"SGD":0.042,"PC-1":0.019,"CC-1":0.0305},
{"x":1200,"PC":0.0351,"CO":0.045,"CC":0.0396,"SGD":0.036,"PC-1":0.016,"CC-1":0.0261},
{"x":1300,"PC":0.0429,"CO":0.055,"CC":0.0484,"SGD":0.044,"PC-1":0.02,"CC-1":0.0319},
{"x":1400,"PC":0.0449,"CO":0.0575,"CC":0.0506,"SGD":0.046,"PC-1":0.021,"CC-1":0.0334},
{"x":1500,"PC":0.0371,"CO":0.0475,"CC":0.0418,"SGD":0.038,"PC-1":0.017,"CC-1":0.0276},
{"x":1600,"PC":0.0343,"CO":0.044,"CC":0.0387,"SGD":0.0352,"PC-1":0.016,"CC-1":0.0255},
{"x":1700,"PC":0.039,"CO":0.05,"CC":0.044,"SGD":0.04,"PC-1":0.018,"CC-1":0.029},
{"x":1800,"PC":0.0468,"CO":0.06,"CC":0.0528,"SGD":0.048,"PC-1":0.022,"CC-1":0.0348},
{"x":1900,"PC":0.0488,"CO":0.0625,"CC":0.055,"SGD":0.05,"PC-1":0.0225,"CC-1":0.0363},
{"x":2000,"PC":0.041,"CO":0.0525,"CC":0.0462,"SGD":0.042,"PC-1":0.019,"CC-1":0.0305},
{"x":2100,"PC":0.0429,"CO":0.055,"CC":0.0484,"SGD":0.044,"PC-1":0.02,"CC-1":0.0319},
{"x":2200,"PC":0.0371,"CO":0.0475,"CC":0.0418,"SGD":0.038,"PC-1":0.017,"CC-1":0.0276},
{"x":2300,"PC":0.041,"CO":0.0525,"CC":0.0462,"SGD":0.042,"PC-1":0.019,"CC-1":0.0305},
{"x":2400,"PC":0.0351,"CO":0.045,"CC":0.0396,"SGD":0.036,"PC-1":0.016,"CC-1":0.0261},
{"x":2500,"PC":0.039,"CO":0.05,"CC":0.044,"SGD":0.04,"PC-1":0.018,"CC-1":0.029},
{"x":2600,"PC":0.0429,"CO":0.055,"CC":0.0484,"SGD":0.044,"PC-1":0.02,"CC-1":0.0319},
{"x":2700,"PC":0.0371,"CO":0.0475,"CC":0.0418,"SGD":0.038,"PC-1":0.017,"CC-1":0.0276},
{"x":2800,"PC":0.041,"CO":0.0525,"CC":0.0462,"SGD":0.042,"PC-1":0.019,"CC-1":0.0305},
{"x":2900,"PC":0.0359,"CO":0.046,"CC":0.0405,"SGD":0.0368,"PC-1":0.0165,"CC-1":0.0267},
{"x":3000,"PC":0.039,"CO":0.05,"CC":0.044,"SGD":0.04,"PC-1":0.018,"CC-1":0.029},
{"x":3100,"PC":0.0421,"CO":0.054,"CC":0.0475,"SGD":0.0432,"PC-1":0.0195,"CC-1":0.0313},
{"x":3200,"PC":0.0371,"CO":0.0475,"CC":0.0418,"SGD":0.038,"PC-1":0.017,"CC-1":0.0276},
{"x":3300,"PC":0.041,"CO":0.0525,"CC":0.0462,"SGD":0.042,"PC-1":0.019,"CC-1":0.0305},
{"x":3400,"PC":0.0437,"CO":0.056,"CC":0.0493,"SGD":0.0448,"PC-1":0.02,"CC-1":0.0325},
{"x":3500,"PC":0.0382,"CO":0.049,"CC":0.0431,"SGD":0.0392,"PC-1":0.0175,"CC-1":0.0284},
{"x":3600,"PC":0.041,"CO":0.0525,"CC":0.0462,"SGD":0.042,"PC-1":0.019,"CC-1":0.0305},
{"x":3700,"PC":0.0363,"CO":0.0465,"CC":0.0409,"SGD":0.0372,"PC-1":0.0167,"CC-1":0.027},
{"x":3800,"PC":0.039,"CO":0.05,"CC":0.044,"SGD":0.04,"PC-1":0.018,"CC-1":0.029},
{"x":3900,"PC":0.0421,"CO":0.054,"CC":0.0475,"SGD":0.0432,"PC-1":0.0195,"CC-1":0.0313},
{"x":4000,"PC":0.0449,"CO":0.0575,"CC":0.0506,"SGD":0.046,"PC-1":0.0207,"CC-1":0.0334},
{"x":4100,"PC":0.0371,"CO":0.0475,"CC":0.0418,"SGD":0.038,"PC-1":0.017,"CC-1":0.0276},
{"x":4200,"PC":0.0332,"CO":0.0425,"CC":0.0374,"SGD":0.034,"PC-1":0.0153,"CC-1":0.0247},
{"x":4300,"PC":0.039,"CO":0.05,"CC":0.044,"SGD":0.04,"PC-1":0.018,"CC-1":0.029},
{"x":4400,"PC":0.0429,"CO":0.055,"CC":0.0484,"SGD":0.044,"PC-1":0.0198,"CC-1":0.0319},
{"x":4500,"PC":0.0371,"CO":0.0475,"CC":0.0418,"SGD":0.038,"PC-1":0.017,"CC-1":0.0276},
{"x":4600,"PC":0.041,"CO":0.0525,"CC":0.0462,"SGD":0.042,"PC-1":0.019,"CC-1":0.0305},
{"x":4700,"PC":0.0382,"CO":0.049,"CC":0.0431,"SGD":0.0392,"PC-1":0.0176,"CC-1":0.0284},
{"x":4800,"PC":0.0429,"CO":0.055,"CC":0.0484,"SGD":0.044,"PC-1":0.0198,"CC-1":0.0319},
{"x":4900,"PC":0.0371,"CO":0.0475,"CC":0.0418,"SGD":0.038,"PC-1":0.017,"CC-1":0.0276},
{"x":5000,"PC":0.0351,"CO":0.045,"CC":0.0396,"SGD":0.036,"PC-1":0.0162,"CC-1":0.0261}
 ]},
 "transform":[{"fold":["CO","CC","SGD","PC","CC-1","PC-1"],"as":["s","v"]},{"filter":"isValid(datum.v) && datum.v > 0"}],
 "mark":{"type":"line","strokeWidth":1.4,"clip":true},
 "encoding":{
  "x":{"field":"x","type":"quantitative","scale":{"domain":[0,5000],"nice":false},"axis":{"title":"Iteration (time)","values":[0,1000,2000,3000,4000,5000],"format":"d","gridColor":"#d0d0d0"}},
  "y":{"field":"v","type":"quantitative","scale":{"type":"log","domain":[0.01,1.85],"nice":false},"axis":{"title":"NSE","values":[0.01,0.02,0.03,0.04,0.05,0.06,0.07,0.08,0.09,0.1,0.2,0.3,0.4,0.5,0.6,0.7,0.8,0.9,1],"labelExpr":"abs(log(datum.value)/LN10-round(log(datum.value)/LN10))<0.01 ? '10'+(round(log(datum.value)/LN10)<0?'⁻':'')+['⁰','¹','²','³','⁴','⁵'][abs(round(log(datum.value)/LN10))] : ''","gridDash":{"condition":{"test":"abs(log(datum.value)/LN10-round(log(datum.value)/LN10))<0.01","value":[]},"value":[1,1.5]},"gridColor":{"condition":{"test":"abs(log(datum.value)/LN10-round(log(datum.value)/LN10))<0.01","value":"#d0d0d0"},"value":"#e2e2e2"}}},
  "color":{"field":"s","type":"nominal","scale":{"domain":["PC","CO","CC","SGD","PC-1","CC-1"],"range":["#ff0000","#00ffff","#0000ff","#edb120","#7e2f8e","#d95319"]},"legend":{"title":null}}
 }}
],"spacing":46,"bounds":"flush","resolve":{"scale":{"color":"independent","strokeDash":"independent","strokeWidth":"independent"},"legend":{"color":"independent","strokeDash":"independent"}}}
],
"config":{
 "font":"Liberation Sans",
 "view":{"stroke":"#262626","strokeWidth":0.7},
 "axis":{"labelFont":"Liberation Sans","labelFontSize":5.5,"labelColor":"#262626","titleFont":"Liberation Sans","titleFontSize":5.5,"titleFontWeight":"normal","titleColor":"#262626","domain":false,"ticks":false,"labelPadding":2,"titlePadding":2,"gridWidth":0.6,"labelOverlap":false},
 "legend":{"orient":"top-right","offset":1,"fillColor":"#ffffff","strokeColor":"#777777","padding":2,"labelFont":"Liberation Sans","labelFontSize":4.8,"labelColor":"#262626","symbolType":"M-1,0H3","symbolSize":36,"symbolStrokeWidth":1.4,"rowPadding":0.5,"labelOffset":8},
 "title":{"font":"Liberation Serif","fontSize":11,"fontWeight":"normal","color":"#000000","lineHeight":11.5,"anchor":"middle","orient":"bottom"}
}
}
